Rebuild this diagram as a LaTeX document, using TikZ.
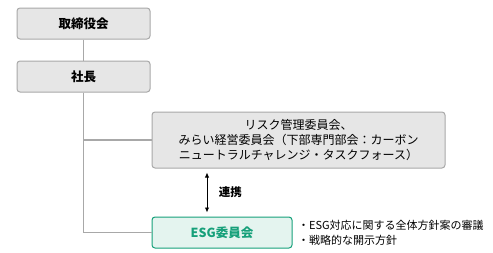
\documentclass[tikz,border=0pt]{standalone}
\usepackage{fontspec}
\setmainfont{Noto Sans CJK JP}
\usetikzlibrary{arrows.meta, positioning}
\definecolor{boxgray}{HTML}{E6E6E6}
\definecolor{linegray}{HTML}{A8A8A8}
\definecolor{esgfill}{HTML}{E4F4EF}
\definecolor{esggreen}{HTML}{16A07A}

\begin{document}
\begin{tikzpicture}[
    x=1pt, y=1pt,
    org/.style={rectangle, draw=linegray, fill=#1, line width=1pt, rounded corners=3pt,
                minimum height=31pt, inner sep=2pt, align=center},
    org/.default={boxgray},
    conn/.style={draw=linegray, line width=1.5pt},
    arr/.style={{Latex[length=5pt,width=4.5pt]}-{Latex[length=5pt,width=4.5pt]}, line width=0.9pt},
]
\useasboundingbox (0,0) rectangle (493,-252);

\node[org, minimum width=133pt, font=\fontsize{12.5}{14}\selectfont\bfseries] (board) at (83.5,-23.5) {取締役会};
\node[org, minimum width=133pt, font=\fontsize{12.5}{14}\selectfont\bfseries, below=21pt of board] (pres) {社長};

\node[org, minimum width=293pt, minimum height=56pt, font=\fontsize{12}{15}\selectfont] (comm) at (298.5,-140) {
    リスク管理委員会、\\
    みらい経営委員会（下部専門部会：カーボン\\
    ニュートラルチャレンジ・タスクフォース）
};

\node[org=esgfill, draw=esggreen, minimum width=140pt, text=esggreen,
      font=\fontsize{12.5}{14}\selectfont\bfseries] (esg) at (222,-232.5) {ESG委員会};

\node[right=2pt of esg, align=left, font=\fontsize{11}{15}\selectfont] (duties) {
    ・ESG対応に関する全体方針案の審議\\
    ・戦略的な開示方針
};

% lines
\draw[conn] (board) -- (pres);
\draw[conn] (pres.south) |- (comm.west);
\draw[conn] (pres.south) |- (esg.west);

\draw[arr, shorten <=4pt, shorten >=4pt] ([xshift=-15pt]esg.north) -- ([xshift=-15pt]esg.north |- comm.south)
    node[midway, right=8pt, font=\fontsize{11.5}{13}\selectfont\bfseries] (link) {連携};

\end{tikzpicture}
\end{document}
